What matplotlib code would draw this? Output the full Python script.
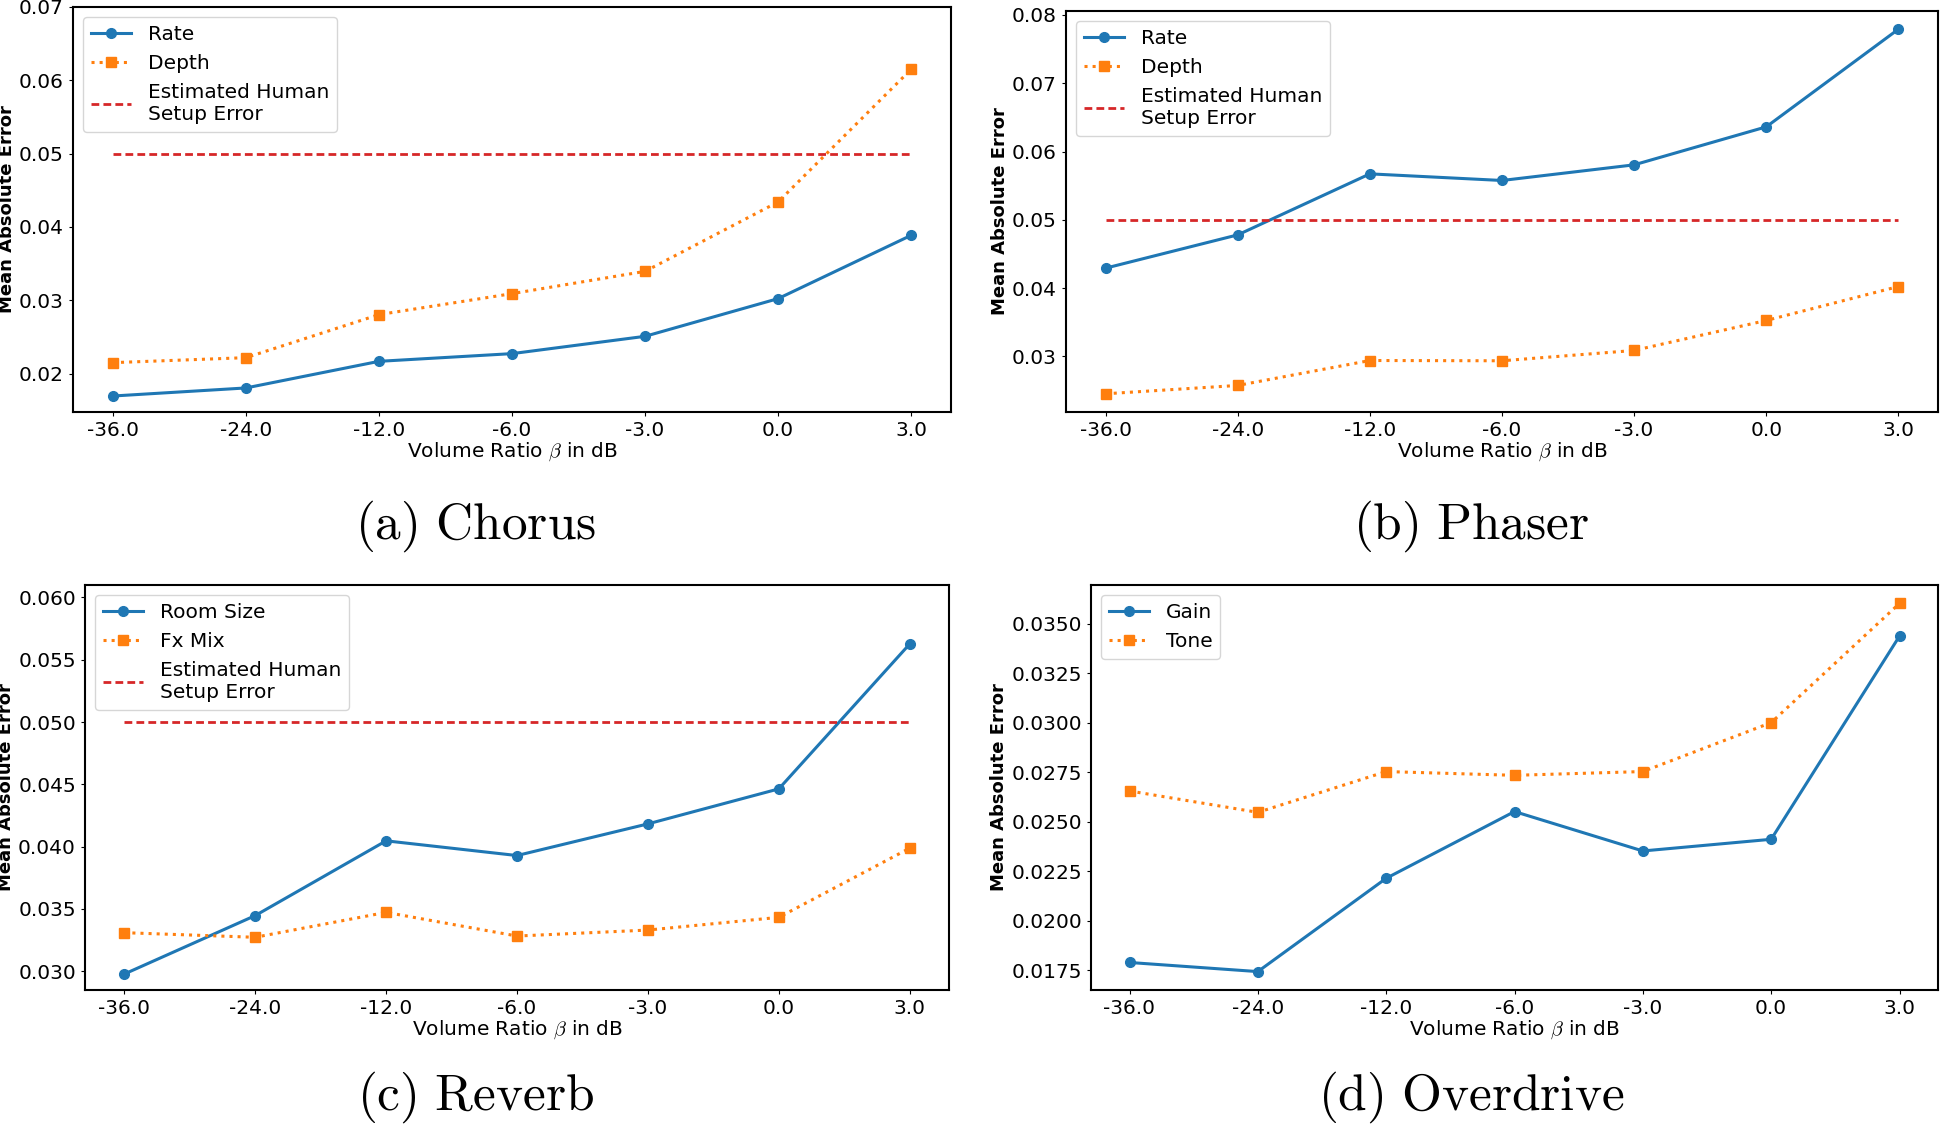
import matplotlib.pyplot as plt

plt.rcParams['mathtext.fontset'] = 'cm'

BLUE = '#1f77b4'
ORANGE = '#ff7f0e'
RED = '#d62728'

x_labels = ['-36.0', '-24.0', '-12.0', '-6.0', '-3.0', '0.0', '3.0']
human_error = 0.05

chorus_rate = [0.01695, 0.01805, 0.02168, 0.02273, 0.02509, 0.03023, 0.03886]
chorus_depth = [0.02150, 0.02218, 0.02805, 0.03091, 0.03395, 0.04341, 0.06150]

phaser_rate = [0.04293, 0.04780, 0.05673, 0.05576, 0.05805, 0.06361, 0.07790]
phaser_depth = [0.02454, 0.02576, 0.02941, 0.02937, 0.03088, 0.03527, 0.04024]

reverb_room = [0.02978, 0.03447, 0.04047, 0.03929, 0.04183, 0.04464, 0.05627]
reverb_mix = [0.03310, 0.03273, 0.03473, 0.03283, 0.03331, 0.03433, 0.03988]

drive_gain = [0.01789, 0.01743, 0.02214, 0.02551, 0.02352, 0.02411, 0.03437]
drive_tone = [0.02655, 0.02547, 0.02753, 0.02734, 0.02753, 0.03000, 0.03602]

W, H = 1946, 1126
FS = 14.5


def make_ax(fig, left, top, right, bottom):
    return fig.add_axes([left / W, 1 - bottom / H, (right - left) / W, (bottom - top) / H])


def draw(ax, series, names, show_human, ylim=None):
    xs = list(range(len(x_labels)))
    ax.plot(xs, series[0], color=BLUE, linestyle='-', marker='o',
            linewidth=2.2, markersize=7, label=names[0])
    ax.plot(xs, series[1], color=ORANGE, linestyle=':', marker='s',
            linewidth=2.2, markersize=7, label=names[1])
    if show_human:
        ax.plot(xs, [human_error] * len(xs), color=RED, linestyle=(0, (2.8, 1.5)),
                linewidth=2, label='Estimated Human\nSetup Error')
    ax.set_xticks(xs)
    ax.set_xticklabels(x_labels)
    if ylim is not None:
        ax.set_ylim(*ylim)
    ax.tick_params(labelsize=FS, length=3)
    for s in ax.spines.values():
        s.set_linewidth(1.5)
    ax.set_xlabel(r'Volume Ratio $\beta$ in dB', fontsize=FS, labelpad=0)
    ax.set_ylabel('Mean Absolute Error', fontsize=13, fontweight='bold', labelpad=2)
    ax.legend(loc='upper left', fontsize=FS)


fig = plt.figure(figsize=(W / 100, H / 100), dpi=100)

ax_a = make_ax(fig, 73, 7, 951, 412)
draw(ax_a, [chorus_rate, chorus_depth], ['Rate', 'Depth'], True, (0.01477, 0.07))

ax_b = make_ax(fig, 1066, 11, 1938, 412)
draw(ax_b, [phaser_rate, phaser_depth], ['Rate', 'Depth'], True)

ax_c = make_ax(fig, 85, 585, 949, 990)
draw(ax_c, [reverb_room, reverb_mix], ['Room Size', 'Fx Mix'], True, (0.0285, 0.0610))

ax_d = make_ax(fig, 1091, 585, 1938, 990)
draw(ax_d, [drive_gain, drive_tone], ['Gain', 'Tone'], False)

captions = [(r'$\mathrm{(a)\ Chorus}$', 476, 526),
            (r'$\mathrm{(b)\ Phaser}$', 1471, 526),
            (r'$\mathrm{(c)\ Reverb}$', 476, 1097),
            (r'$\mathrm{(d)\ Overdrive}$', 1471, 1097)]
for txt, cx, cy in captions:
    fig.text(cx / W, 1 - cy / H, txt, fontsize=37, ha='center', va='center')

fig.savefig('out.png', dpi=100)
